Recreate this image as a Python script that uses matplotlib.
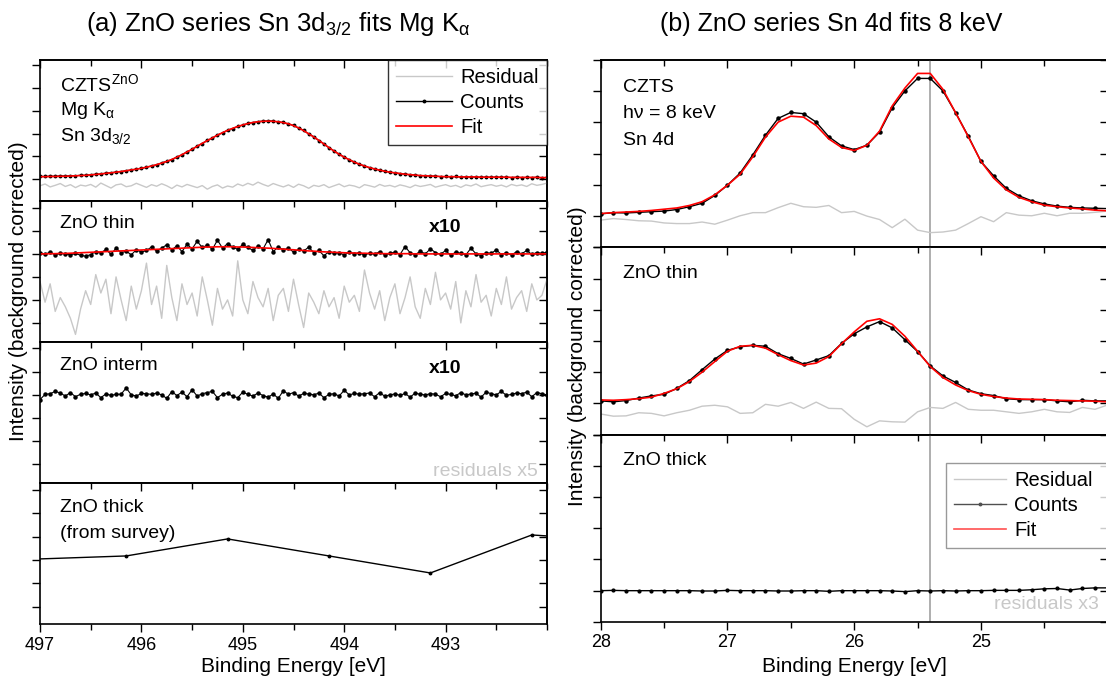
import numpy as np
import matplotlib
matplotlib.use("Agg")
import matplotlib.pyplot as plt
from matplotlib.ticker import MultipleLocator, FixedLocator
from matplotlib.lines import Line2D

plt.rcParams['font.family'] = ['Liberation Sans', 'DejaVu Sans']
plt.rcParams['mathtext.fontset'] = 'custom'
plt.rcParams['mathtext.rm'] = 'Liberation Sans'
plt.rcParams['mathtext.it'] = 'Liberation Sans:italic'
plt.rcParams['mathtext.bf'] = 'Liberation Sans:bold'

# ============================================================
# DATA  (a) Sn 3d3/2, Mg K-alpha, 0.05 eV steps, 497 -> 492 eV
# ============================================================
be_3d = np.linspace(497.0, 492.0, 101)

czts_3d_counts = [0.12, 0.11, 0.13, 0.12, 0.14, 0.13, 0.15, 0.14, 0.17, 0.16,
                  0.19, 0.21, 0.22, 0.26, 0.27, 0.31, 0.32, 0.37, 0.39, 0.44,
                  0.48, 0.51, 0.58, 0.62, 0.71, 0.78, 0.85, 0.97, 1.06, 1.20,
                  1.30, 1.45, 1.56, 1.70, 1.80, 1.94, 2.03, 2.15, 2.22, 2.32,
                  2.37, 2.45, 2.48, 2.53, 2.55, 2.56, 2.55, 2.51, 2.49, 2.42,
                  2.36, 2.24, 2.14, 1.98, 1.86, 1.69, 1.55, 1.37, 1.24, 1.08,
                  0.97, 0.84, 0.75, 0.64, 0.58, 0.49, 0.45, 0.38, 0.35, 0.29,
                  0.28, 0.23, 0.22, 0.18, 0.18, 0.14, 0.15, 0.12, 0.13, 0.10,
                  0.11, 0.09, 0.11, 0.08, 0.10, 0.08, 0.09, 0.07, 0.09, 0.07,
                  0.09, 0.07, 0.08, 0.06, 0.08, 0.06, 0.07, 0.06, 0.08, 0.05, 0.07]

czts_3d_fit = [0.10, 0.10, 0.11, 0.11, 0.12, 0.12, 0.13, 0.14, 0.15, 0.16,
               0.18, 0.20, 0.22, 0.25, 0.27, 0.30, 0.33, 0.36, 0.40, 0.43,
               0.47, 0.52, 0.57, 0.63, 0.70, 0.77, 0.86, 0.96, 1.07, 1.19,
               1.31, 1.44, 1.57, 1.69, 1.81, 1.93, 2.04, 2.14, 2.23, 2.31,
               2.38, 2.44, 2.49, 2.52, 2.54, 2.55, 2.54, 2.52, 2.48, 2.43,
               2.35, 2.25, 2.13, 1.99, 1.85, 1.70, 1.54, 1.38, 1.23, 1.09,
               0.96, 0.85, 0.74, 0.65, 0.57, 0.50, 0.44, 0.39, 0.34, 0.30,
               0.27, 0.24, 0.21, 0.19, 0.17, 0.15, 0.14, 0.13, 0.12, 0.11,
               0.10, 0.10, 0.10, 0.09, 0.09, 0.09, 0.09, 0.08, 0.08, 0.08,
               0.08, 0.08, 0.08, 0.07, 0.07, 0.07, 0.07, 0.07, 0.07, 0.06, 0.06]

czts_3d_resid = [-0.30, -0.22, -0.35, -0.28, -0.20, -0.33, -0.25, -0.38, -0.27, -0.31,
                 -0.24, -0.36, -0.18, -0.29, -0.40, -0.26, -0.22, -0.34, -0.30, -0.19,
                 -0.28, -0.37, -0.25, -0.32, -0.21, -0.30, -0.42, -0.27, -0.35, -0.24,
                 -0.31, -0.38, -0.29, -0.45, -0.33, -0.26, -0.40, -0.31, -0.36, -0.22,
                 -0.30, -0.19, -0.27, -0.14, -0.24, -0.32, -0.20, -0.28, -0.35, -0.26,
                 -0.37, -0.23, -0.30, -0.41, -0.28, -0.33, -0.25, -0.38, -0.30, -0.22,
                 -0.34, -0.27, -0.31, -0.39, -0.25, -0.30, -0.36, -0.24, -0.32, -0.28,
                 -0.35, -0.26, -0.31, -0.38, -0.27, -0.33, -0.29, -0.24, -0.36, -0.30,
                 -0.25, -0.33, -0.28, -0.37, -0.26, -0.31, -0.22, -0.34, -0.29, -0.25,
                 -0.32, -0.27, -0.35, -0.24, -0.30, -0.26, -0.33, -0.21, -0.28, -0.24, -0.18]

# ZnO thin, counts x10
thin_3d_counts = [0.05, -0.02, 0.08, -0.05, 0.03, 0.00, -0.04, 0.02, -0.06, -0.10,
                  -0.03, 0.10, 0.04, 0.20, -0.02, 0.25, 0.05, 0.12, -0.04, 0.18,
                  0.08, 0.15, 0.30, 0.12, 0.25, 0.40, 0.18, 0.35, 0.10, 0.42,
                  0.22, 0.55, 0.28, 0.38, 0.20, 0.60, 0.25, 0.45, 0.30, 0.20,
                  0.42, 0.28, 0.15, 0.35, 0.22, 0.62, 0.10, 0.30, 0.18, 0.25,
                  0.08, 0.20, 0.12, 0.30, 0.05, 0.15, -0.08, 0.10, 0.02, 0.06,
                  -0.05, 0.08, 0.00, 0.05, -0.06, 0.04, -0.02, 0.10, -0.05, 0.02,
                  0.08, -0.03, 0.32, 0.05, -0.04, 0.12, 0.00, 0.22, 0.06, -0.02,
                  0.15, -0.06, 0.08, 0.02, -0.04, 0.25, 0.00, -0.08, 0.05, 0.02,
                  0.18, -0.03, 0.06, -0.05, 0.10, 0.00, 0.15, -0.02, 0.06, 0.02, 0.08]

thin_3d_fit = [0.00, 0.00, 0.01, 0.01, 0.02, 0.02, 0.03, 0.04, 0.05, 0.06,
               0.07, 0.08, 0.09, 0.10, 0.11, 0.12, 0.13, 0.14, 0.15, 0.16,
               0.17, 0.18, 0.19, 0.20, 0.21, 0.22, 0.23, 0.24, 0.25, 0.26,
               0.27, 0.28, 0.29, 0.30, 0.30, 0.31, 0.31, 0.31, 0.31, 0.30,
               0.30, 0.29, 0.28, 0.27, 0.26, 0.25, 0.24, 0.22, 0.21, 0.19,
               0.18, 0.16, 0.15, 0.13, 0.12, 0.10, 0.09, 0.08, 0.07, 0.06,
               0.05, 0.04, 0.04, 0.03, 0.03, 0.02, 0.02, 0.02, 0.01, 0.01,
               0.01, 0.01, 0.01, 0.01, 0.00, 0.00, 0.00, 0.00, 0.00, 0.00,
               0.00, 0.00, 0.00, 0.00, 0.00, 0.00, 0.00, 0.00, 0.00, 0.00,
               0.00, 0.00, 0.00, 0.00, 0.00, 0.00, 0.00, 0.00, 0.00, 0.00, 0.00]

thin_3d_resid = [-1.2, -2.1, -1.3, -2.5, -1.9, -2.3, -2.8, -3.5, -2.4, -1.6,
                 -2.2, -0.9, -1.7, -1.1, -2.6, -1.0, -2.0, -2.9, -1.4, -2.4,
                 -1.6, -0.4, -2.2, -1.4, -2.8, -0.5, -1.9, -2.9, -1.3, -2.2,
                 -1.7, -2.7, -1.0, -2.0, -3.1, -1.5, -2.4, -2.0, -2.7, -0.3,
                 -2.0, -2.6, -1.2, -1.9, -2.3, -1.5, -2.9, -1.8, -1.5, -2.5,
                 -1.1, -2.2, -3.2, -1.7, -2.1, -2.6, -1.6, -2.3, -1.9, -2.8,
                 -1.4, -2.1, -1.8, -2.5, -0.7, -1.7, -2.4, -1.6, -2.9, -1.9,
                 -1.3, -2.6, -1.9, -1.0, -2.3, -2.8, -1.5, -2.2, -0.8, -2.0,
                 -1.7, -2.4, -1.2, -3.0, -1.6, -2.3, -0.9, -2.1, -1.8, -2.7,
                 -1.5, -2.2, -1.0, -2.4, -1.9, -1.6, -2.5, -1.3, -2.0, -1.8, -1.1]

# ZnO interm, counts x10
interm_3d_counts = [-0.20, 0.02, 0.05, 0.15, 0.08, -0.05, 0.10, -0.08, 0.03, 0.06,
                    0.00, 0.08, -0.12, 0.04, -0.02, 0.02, 0.03, 0.30, 0.00, -0.05,
                    0.06, 0.05, 0.02, 0.08, 0.00, -0.15, 0.14, -0.03, 0.12, -0.08,
                    0.22, -0.05, 0.05, 0.10, 0.15, -0.12, 0.03, 0.08, -0.06, -0.12,
                    0.12, 0.02, -0.05, 0.08, -0.03, -0.10, 0.04, -0.15, 0.18, 0.02,
                    0.10, -0.05, 0.06, 0.04, 0.00, 0.08, -0.12, 0.02, 0.05, -0.05,
                    0.20, 0.00, 0.06, 0.03, 0.05, 0.08, -0.08, 0.10, -0.06, 0.00,
                    0.04, -0.02, 0.06, -0.10, 0.08, 0.02, 0.00, 0.05, 0.03, -0.08,
                    0.06, 0.02, -0.04, 0.10, 0.00, 0.04, 0.07, -0.10, 0.12, 0.05,
                    0.00, 0.15, -0.02, 0.02, 0.08, 0.05, 0.12, -0.08, 0.10, 0.05, 0.00]

# ZnO thick, from survey (1 eV steps)
be_survey = [497.15, 496.15, 495.15, 494.15, 493.15, 492.15, 491.15]
thick_survey = [0.02, 0.17, 0.90, 0.17, -0.56, 1.07, 0.80]

# ============================================================
# DATA  (b) Sn 4d, 8 keV, 0.1 eV steps, 28 -> 24 eV
# ============================================================
be_4d = np.linspace(28.0, 24.0, 41)

czts_4d_counts = [0.07, 0.11, 0.10, 0.12, 0.14, 0.16, 0.21, 0.30, 0.41, 0.66,
                  0.99, 1.38, 1.96, 2.59, 3.13, 3.32, 3.28, 3.01, 2.54, 2.25,
                  2.13, 2.27, 2.69, 3.47, 4.01, 4.41, 4.41, 4.01, 3.31, 2.56,
                  1.75, 1.29, 0.89, 0.65, 0.49, 0.39, 0.32, 0.28, 0.26, 0.25, 0.24]
czts_4d_fit = [0.08, 0.11, 0.13, 0.15, 0.18, 0.22, 0.26, 0.34, 0.46, 0.68,
               0.99, 1.34, 1.90, 2.53, 3.01, 3.20, 3.17, 2.90, 2.47, 2.20,
               2.10, 2.27, 2.72, 3.53, 4.10, 4.57, 4.57, 4.06, 3.31, 2.54,
               1.75, 1.22, 0.84, 0.60, 0.46, 0.35, 0.30, 0.26, 0.23, 0.19, 0.17]
czts_4d_resid = [-0.13, -0.08, -0.11, -0.15, -0.16, -0.22, -0.24, -0.24, -0.19, -0.26,
                 -0.13, 0.01, 0.11, 0.11, 0.27, 0.41, 0.30, 0.28, 0.34, 0.11,
                 0.15, 0.00, -0.11, -0.37, -0.10, -0.45, -0.53, -0.51, -0.45, -0.24,
                 -0.02, -0.18, 0.11, 0.03, 0.01, 0.09, 0.01, 0.09, 0.09, 0.12, 0.16]

thin_4d_counts = [0.08, 0.05, 0.09, 0.17, 0.24, 0.29, 0.48, 0.73, 1.08, 1.42,
                  1.70, 1.81, 1.86, 1.83, 1.59, 1.44, 1.26, 1.39, 1.53, 1.92,
                  2.23, 2.45, 2.62, 2.42, 2.04, 1.66, 1.20, 0.88, 0.67, 0.43,
                  0.31, 0.25, 0.15, 0.12, 0.12, 0.12, 0.08, 0.05, 0.10, 0.08, 0.08]
thin_4d_fit = [0.11, 0.10, 0.12, 0.15, 0.20, 0.32, 0.47, 0.70, 1.00, 1.34,
               1.67, 1.83, 1.86, 1.77, 1.56, 1.37, 1.23, 1.29, 1.50, 1.91,
               2.29, 2.63, 2.71, 2.53, 2.15, 1.67, 1.18, 0.83, 0.59, 0.41,
               0.29, 0.22, 0.17, 0.14, 0.13, 0.12, 0.10, 0.09, 0.08, 0.07, 0.05]
thin_4d_resid = [-0.34, -0.41, -0.40, -0.30, -0.32, -0.40, -0.30, -0.22, -0.09, -0.06,
                 -0.11, -0.32, -0.30, -0.03, -0.09, 0.03, -0.16, 0.04, -0.16, -0.17,
                 -0.51, -0.75, -0.56, -0.59, -0.60, -0.27, -0.13, -0.16, 0.03, -0.19,
                 -0.22, -0.22, -0.27, -0.32, -0.27, -0.19, -0.27, -0.29, -0.13, -0.19, -0.05]

thick_4d_counts = [0.00, 0.01, 0.00, 0.00, 0.00, 0.00, 0.00, 0.00, -0.01, -0.01,
                   0.01, 0.00, 0.00, 0.00, -0.01, -0.01, 0.00, 0.00, -0.02, 0.00,
                   0.00, 0.00, 0.00, -0.01, -0.03, 0.00, -0.01, 0.00, -0.01, 0.00,
                   0.00, 0.01, 0.01, 0.01, 0.03, 0.06, 0.07, 0.02, 0.07, 0.09, 0.09]

sn4d52_position = 25.4

# ============================================================
# STYLE
# ============================================================
W, H = 1106, 682
RESID_C = '#c8c8c8'
FIT_C = '#ff0000'
FS_TEXT = 14

fig = plt.figure(figsize=(W / 100, H / 100), dpi=100)


def add_ax(left, top, width, height):
    """axes placed in pixel coordinates measured from the top-left corner"""
    return fig.add_axes([left / W, 1 - (top + height) / H, width / W, height / H])


def style(ax, xlim, ylim, majors, last):
    ax.set_xlim(*xlim)
    ax.set_ylim(*ylim)
    ax.xaxis.set_major_locator(FixedLocator(majors))
    ax.xaxis.set_minor_locator(MultipleLocator(0.5))
    ax.yaxis.set_major_locator(MultipleLocator(1))
    ax.tick_params(axis='x', which='both', direction='out', top=False,
                   bottom=last, labelbottom=last, labelsize=13)
    ax.tick_params(axis='y', which='both', direction='out', right=False,
                   labelleft=False)
    ax.tick_params(which='major', length=5.5, width=1)
    ax.tick_params(which='minor', length=4, width=1)
    # mirrored ticks point inwards on top and right
    top = ax.secondary_xaxis('top')
    top.xaxis.set_major_locator(FixedLocator(majors))
    top.xaxis.set_minor_locator(MultipleLocator(0.5))
    top.tick_params(which='both', direction='in', labeltop=False, width=1)
    top.tick_params(which='major', length=5.5)
    top.tick_params(which='minor', length=4)
    right = ax.secondary_yaxis('right')
    right.yaxis.set_major_locator(MultipleLocator(1))
    right.tick_params(direction='in', labelright=False, length=5.5, width=1)
    for a in (ax, top, right):
        for s in a.spines.values():
            s.set_linewidth(1.2)


def panel_text(ax, x, y, s, **kw):
    ax.text(x, y, s, transform=ax.transAxes, fontsize=FS_TEXT, va='baseline', **kw)


# ---------------- (a) left column ----------------
L_X, L_W, L_H, TOP = 40, 507, 141, 60
left_axes = [add_ax(L_X, TOP + i * L_H, L_W, L_H) for i in range(4)]
a1, a2, a3, a4 = left_axes
xl = (497, 492)
ticks_a = [497, 496, 495, 494, 493]

a1.plot(be_3d, czts_3d_resid, color=RESID_C, lw=1)
a1.plot(be_3d, czts_3d_counts, color='black', lw=0.8, marker='o', ms=1.8)
a1.plot(be_3d, czts_3d_fit, color=FIT_C, lw=1.2)
style(a1, xl, (-0.97, 5.24), ticks_a, False)
panel_text(a1, 0.040, 0.782, r'CZTS$^{\mathrm{ZnO}}$')
panel_text(a1, 0.040, 0.610, r'Mg K$_{\mathrm{\alpha}}$')
panel_text(a1, 0.040, 0.428, r'Sn 3d$_{\mathrm{3/2}}$')
handles = [Line2D([], [], color=RESID_C, lw=1),
           Line2D([], [], color='black', lw=1, marker='o', ms=1.8),
           Line2D([], [], color=FIT_C, lw=1.2)]
leg = a1.legend(handles, ['Residual', 'Counts', 'Fit'], loc='upper right',
                bbox_to_anchor=(1.0, 1.0), borderaxespad=0, fontsize=14.5,
                fancybox=False, edgecolor='black', handlelength=2.8,
                handletextpad=0.4, labelspacing=0.3, borderpad=0.4)
leg.get_frame().set_linewidth(1.0)

a2.plot(be_3d, thin_3d_resid, color=RESID_C, lw=1)
a2.plot(be_3d, thin_3d_counts, color='black', lw=0.8, marker='o', ms=2.2)
a2.plot(be_3d, thin_3d_fit, color=FIT_C, lw=1.2)
style(a2, xl, (-3.83, 2.30), ticks_a, False)
panel_text(a2, 0.040, 0.806, 'ZnO thin')
panel_text(a2, 0.767, 0.778, 'x10', fontweight='bold')

a3.plot(be_3d, interm_3d_counts, color='black', lw=0.8, marker='o', ms=2.2)
style(a3, xl, (-3.80, 2.28), ticks_a, False)
panel_text(a3, 0.040, 0.800, 'ZnO interm')
panel_text(a3, 0.767, 0.778, 'x10', fontweight='bold')
panel_text(a3, 0.982, 0.050, 'residuals x5', color='#c8c8c8', ha='right')

a4.plot(be_survey, thick_survey, color='black', lw=1, marker='o', ms=1.8)
style(a4, xl, (-2.75, 3.30), ticks_a, True)
panel_text(a4, 0.040, 0.796, 'ZnO thick')
panel_text(a4, 0.040, 0.608, '(from survey)')

# ---------------- (b) right column ----------------
R_X, R_W, R_H = 600.7, 507, 187.3
right_axes = [add_ax(R_X, TOP + i * R_H, R_W, R_H) for i in range(3)]
b1, b2, b3 = right_axes
xr = (28, 24)
ticks_b = [28, 27, 26, 25]

for ax, res, cnt, fit in [(b1, czts_4d_resid, czts_4d_counts, czts_4d_fit),
                          (b2, thin_4d_resid, thin_4d_counts, thin_4d_fit)]:
    ax.plot(be_4d, res, color=RESID_C, lw=1)
    ax.plot(be_4d, cnt, color='black', lw=1, marker='o', ms=2.2)
    ax.plot(be_4d, fit, color=FIT_C, lw=1.2)
b3.plot(be_4d, thick_4d_counts, color='black', lw=1, marker='o', ms=2.0)

for i, ax in enumerate(right_axes):
    ax.axvline(sn4d52_position, color='#a8a8a8', lw=1.3, zorder=0.5)
    style(ax, xr, (-1, 5), ticks_b, i == 2)

panel_text(b1, 0.043, 0.831, 'CZTS')
panel_text(b1, 0.043, 0.692, 'h\u03bd = 8 keV')
panel_text(b1, 0.043, 0.546, 'Sn 4d')
panel_text(b2, 0.043, 0.835, 'ZnO thin')
panel_text(b3, 0.043, 0.838, 'ZnO thick')
panel_text(b3, 0.983, 0.069, 'residuals x3', color='#c8c8c8', ha='right')

handles_b = [Line2D([], [], color=RESID_C, lw=1),
             Line2D([], [], color='#505050', lw=1, marker='o', ms=1.8),
             Line2D([], [], color='#ff5050', lw=1.2)]
# box runs past the right edge of the picture, as in the original
leg_b = b3.legend(handles_b, ['Residual', 'Counts', 'Fit'], loc='upper left',
                  bbox_to_anchor=(0.681, 0.0, 0.34, 0.849), mode='expand',
                  borderaxespad=0, fontsize=14.5, fancybox=False,
                  edgecolor='#808080', handlelength=2.6, handletextpad=0.4,
                  labelspacing=0.3, borderpad=0.4)
leg_b.get_frame().set_linewidth(1.0)

# ---------------- titles and axis labels ----------------
fig.text(278 / W, 1 - 24 / H, r'(a) ZnO series Sn 3d$_{\mathrm{3/2}}$ fits Mg K$_{\mathrm{\alpha}}$',
         ha='center', va='center', fontsize=18.5)
fig.text(831 / W, 1 - 24 / H, '(b) ZnO series Sn 4d fits 8 keV',
         ha='center', va='center', fontsize=18)
fig.text(19 / W, 1 - 291 / H, 'Intensity (background corrected)', rotation=90,
         ha='center', va='center', fontsize=15)
fig.text(577 / W, 1 - 356 / H, 'Intensity (background corrected)', rotation=90,
         ha='center', va='center', fontsize=15)
fig.text((L_X + L_W / 2) / W, 1 - 667 / H, 'Binding Energy [eV]',
         ha='center', va='center', fontsize=15)
fig.text((R_X + R_W / 2) / W, 1 - 667 / H, 'Binding Energy [eV]',
         ha='center', va='center', fontsize=15)

fig.savefig('out.png', dpi=100)
